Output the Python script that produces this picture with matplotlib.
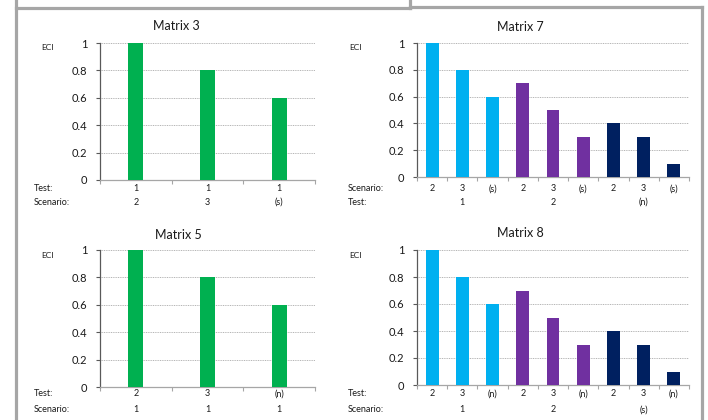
import matplotlib
matplotlib.use("Agg")
import matplotlib.pyplot as plt
from matplotlib.lines import Line2D
from matplotlib.transforms import blended_transform_factory

plt.rcParams['font.family'] = ['Lato', 'DejaVu Sans']

W, H = 708, 420

# ---------------- data ----------------
m3_values = [1.0, 0.8, 0.6]
m3_test = ['1', '1', '1']
m3_scenario = ['2', '3', '(s)']

m5_values = [1.0, 0.8, 0.6]
m5_test = ['2', '3', '(n)']
m5_scenario = ['1', '1', '1']

m7_values = [1.0, 0.8, 0.6, 0.7, 0.5, 0.3, 0.4, 0.3, 0.1]
m7_scenario = ['2', '3', '(s)', '2', '3', '(s)', '2', '3', '(s)']
m7_test_groups = ['1', '2', '(n)']

m8_values = [1.0, 0.8, 0.6, 0.7, 0.5, 0.3, 0.4, 0.3, 0.1]
m8_test = ['2', '3', '(n)', '2', '3', '(n)', '2', '3', '(n)']
m8_scenario_groups = ['1', '2', '(s)']

y_ticks = [0, 0.2, 0.4, 0.6, 0.8, 1.0]
y_ticklabels = ['0', '0.2', '0.4', '0.6', '0.8', '1']

GREEN = '#00b050'
GROUP_COLORS = ['#00b0f0', '#7030a0', '#002060']
FRAME = '#a6a6a6'
TXT = '#1a1a1a'

fig = plt.figure(figsize=(W / 100, H / 100), dpi=100)
fig.patch.set_facecolor('white')


def fx(x):
    return x / W


def fy(y):
    return 1 - y / H


# ---------------- frame lines ----------------
frame_segments = [
    [(16, 0), (16, 420)],
    [(16, 8), (410, 8)],
    [(410, 0), (410, 8)],
    [(410, 7), (702, 7)],
    [(702, 7), (702, 420)],
]
for seg in frame_segments:
    xs = [fx(p[0]) for p in seg]
    ys = [fy(p[1]) for p in seg]
    fig.add_artist(Line2D(xs, ys, transform=fig.transFigure, color=FRAME,
                          lw=2.3, solid_capstyle='projecting'))


def make_axes(left, right, top, bottom):
    ax = fig.add_axes([fx(left), fy(bottom), (right - left) / W, (bottom - top) / H])
    ax.set_facecolor('none')
    for s in ['top', 'right']:
        ax.spines[s].set_visible(False)
    ax.spines['left'].set_color('#595959')
    ax.spines['left'].set_linewidth(0.9)
    ax.spines['bottom'].set_color('#a6a6a6')
    ax.spines['bottom'].set_linewidth(0.9)
    ax.set_ylim(0, 1)
    ax.set_yticks(y_ticks)
    ax.set_yticklabels(y_ticklabels, fontsize=8, color=TXT)
    ax.tick_params(axis='y', direction='out', length=3, width=0.8,
                   color='#595959', pad=6)
    ax.yaxis.grid(True, linestyle=(0, (1, 0.8)), color='#b3b3b3', lw=0.7)
    ax.set_axisbelow(True)
    return ax


def setup_x(ax, n):
    ax.set_xlim(-0.5, n - 0.5)
    ax.set_xticks([i - 0.5 for i in range(n + 1)])
    ax.set_xticklabels([])
    ax.tick_params(axis='x', direction='out', length=3, width=0.8,
                   color='#a6a6a6')


def cat_labels(ax, labels, ypx, xs=None):
    tr = blended_transform_factory(ax.transData, fig.transFigure)
    if xs is None:
        xs = list(range(len(labels)))
    for x, lab in zip(xs, labels):
        ax.text(x, fy(ypx), lab, transform=tr, ha='center', va='center',
                fontsize=6.5, color=TXT)


def fig_text(x, y, s, size, ha='left'):
    fig.text(fx(x), fy(y), s, ha=ha, va='center', fontsize=size, color=TXT)


# ---------------- Matrix 3 ----------------
ax3 = make_axes(100, 315, 43, 180)
setup_x(ax3, len(m3_values))
ax3.bar(range(len(m3_values)), m3_values, width=0.21, color=GREEN, zorder=3)
cat_labels(ax3, m3_test, 189)
cat_labels(ax3, m3_scenario, 202)
fig_text(176, 26, 'Matrix 3', 9, ha='center')
fig_text(47, 48, 'ECI', 6, ha='center')
fig_text(34, 189, 'Test:', 6.5)
fig_text(34, 202, 'Scenario:', 6.5)

# ---------------- Matrix 7 ----------------
ax7 = make_axes(417, 689, 43, 177)
setup_x(ax7, len(m7_values))
cols7 = [GROUP_COLORS[i // 3] for i in range(len(m7_values))]
ax7.bar(range(len(m7_values)), m7_values, width=0.43, color=cols7, zorder=3)
cat_labels(ax7, m7_scenario, 189)
cat_labels(ax7, m7_test_groups, 202, xs=[1, 4, 7])
fig_text(520, 27, 'Matrix 7', 9, ha='center')
fig_text(356, 48, 'ECI', 6, ha='center')
fig_text(348, 189, 'Scenario:', 6.5)
fig_text(348, 202, 'Test:', 6.5)

# ---------------- Matrix 5 ----------------
ax5 = make_axes(100, 315, 250, 387)
setup_x(ax5, len(m5_values))
ax5.bar(range(len(m5_values)), m5_values, width=0.21, color=GREEN, zorder=3)
cat_labels(ax5, m5_test, 394)
cat_labels(ax5, m5_scenario, 410)
fig_text(178, 235, 'Matrix 5', 9, ha='center')
fig_text(47, 256, 'ECI', 6, ha='center')
fig_text(34, 394, 'Test:', 6.5)
fig_text(34, 410, 'Scenario:', 6.5)

# ---------------- Matrix 8 ----------------
ax8 = make_axes(417, 689, 250, 385)
setup_x(ax8, len(m8_values))
cols8 = [GROUP_COLORS[i // 3] for i in range(len(m8_values))]
ax8.bar(range(len(m8_values)), m8_values, width=0.43, color=cols8, zorder=3)
cat_labels(ax8, m8_test, 394)
cat_labels(ax8, m8_scenario_groups, 410, xs=[1, 4, 7])
fig_text(520, 233, 'Matrix 8', 9, ha='center')
fig_text(356, 255, 'ECI', 6, ha='center')
fig_text(348, 394, 'Test:', 6.5)
fig_text(348, 410, 'Scenario:', 6.5)

fig.savefig('out.png', dpi=100, facecolor='white')
